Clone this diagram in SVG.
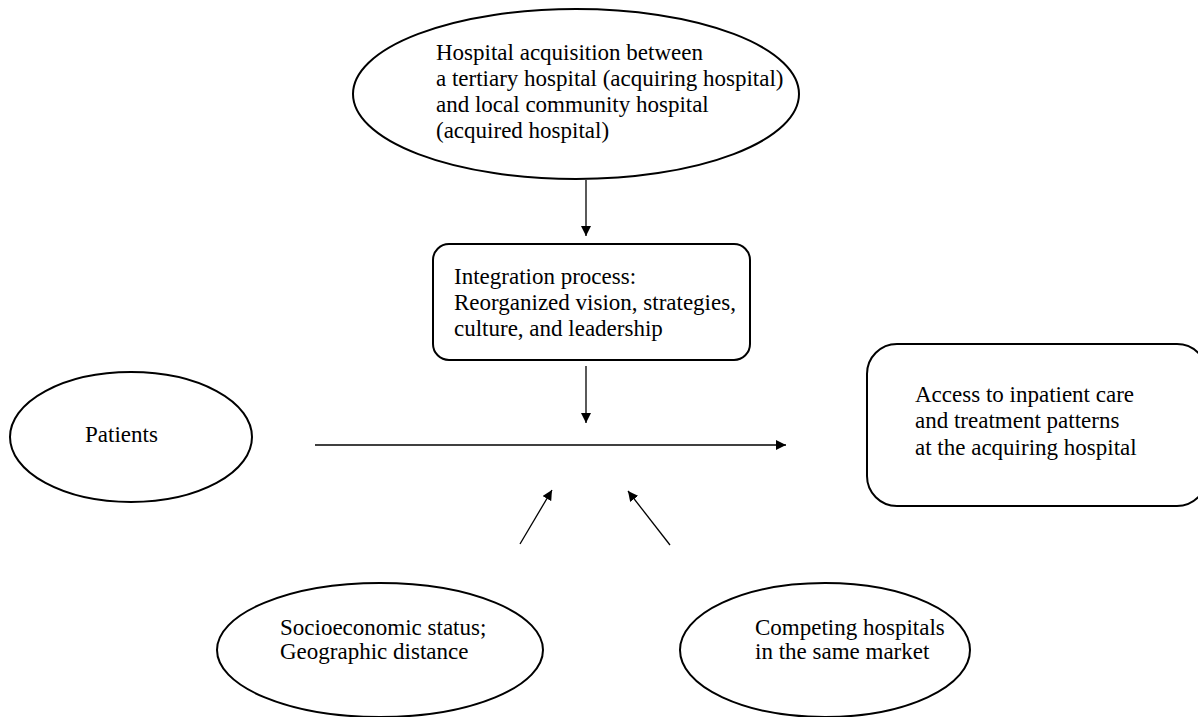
<svg xmlns="http://www.w3.org/2000/svg" width="1198" height="717" viewBox="0 0 1198 717">
<style>
.s{fill:#fff;stroke:#000;stroke-width:2}
.t{font-family:'Liberation Serif','Times New Roman',Times,serif;font-size:23px;fill:#000}
.c{stroke:#000;stroke-width:1.3;fill:none;marker-end:url(#a)}
</style>
<defs>
<marker id="a" viewBox="0 0 10 10" refX="10" refY="5" markerWidth="10" markerHeight="10" markerUnits="userSpaceOnUse" orient="auto">
<path d="M0,0 L10,5 L0,10 z" fill="#000"/>
</marker>
</defs>
<rect width="1198" height="717" fill="#fff"/>
<g id="acquisition">
<ellipse class="s" cx="576" cy="94" rx="223" ry="85"/>
<text class="t" x="436" y="60">Hospital acquisition between</text>
<text class="t" x="436" y="86">a tertiary hospital (acquiring hospital)</text>
<text class="t" x="436" y="112">and local community hospital</text>
<text class="t" x="436" y="138">(acquired hospital)</text>
</g>
<g id="integration">
<rect class="s" x="433" y="244" width="317" height="116" rx="16"/>
<text class="t" x="454" y="284">Integration process:</text>
<text class="t" x="454" y="310">Reorganized vision, strategies,</text>
<text class="t" x="454" y="336">culture, and leadership</text>
</g>
<g id="patients">
<ellipse class="s" cx="131" cy="437" rx="121" ry="65"/>
<text class="t" x="85" y="442">Patients</text>
</g>
<g id="access">
<rect class="s" x="867" y="344" width="340" height="162" rx="30"/>
<text class="t" x="915" y="402">Access to inpatient care</text>
<text class="t" x="915" y="428">and treatment patterns</text>
<text class="t" x="915" y="455">at the acquiring hospital</text>
</g>
<g id="socioeconomic">
<ellipse class="s" cx="380" cy="650" rx="163" ry="67"/>
<text class="t" x="280" y="635">Socioeconomic status;</text>
<text class="t" x="280" y="659">Geographic distance</text>
</g>
<g id="competing">
<ellipse class="s" cx="825" cy="650" rx="145" ry="67"/>
<text class="t" x="755" y="635">Competing hospitals</text>
<text class="t" x="755" y="659">in the same market</text>
</g>
<g id="connectors">
<line class="c" x1="586" y1="180" x2="586" y2="236"/>
<line class="c" x1="586" y1="366" x2="586" y2="423"/>
<line class="c" x1="315" y1="445" x2="786" y2="445"/>
<line class="c" x1="520" y1="544" x2="552" y2="490"/>
<line class="c" x1="670" y1="545" x2="628" y2="491"/>
</g>
</svg>
